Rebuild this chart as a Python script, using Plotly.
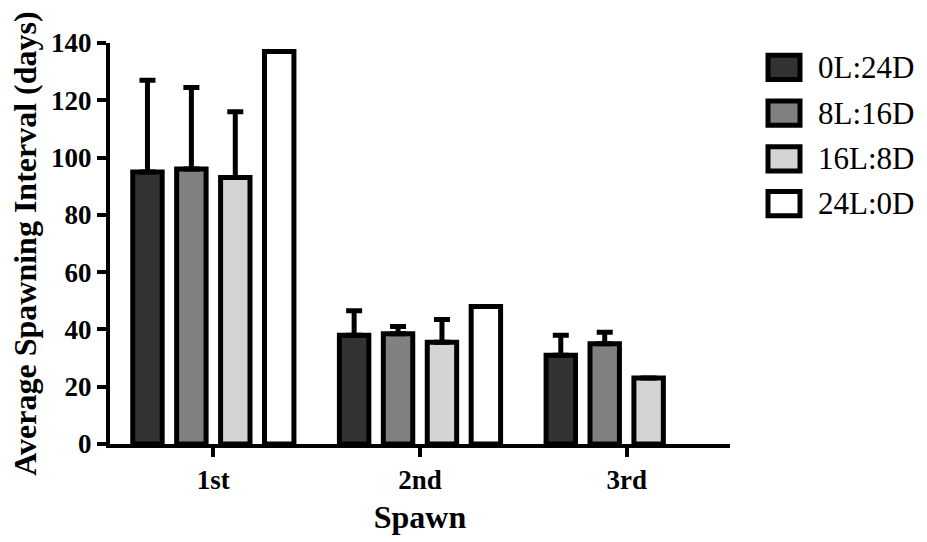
import plotly.graph_objects as go

# Spawn order on the x axis
spawns = ["1st", "2nd", "3rd"]

# Photoperiod treatments
treatments = ["0L:24D", "8L:16D", "16L:8D", "24L:0D"]
fills = ["#333333", "#808080", "#d4d4d4", "#ffffff"]

# Mean spawning interval (days) per treatment, for each spawn
mean_0L24D = [95, 38, 31]
mean_8L16D = [96, 38.5, 35]
mean_16L8D = [93, 35.5, 23]
mean_24L0D = [137, 48, None]

# Upper error (days)
err_0L24D = [32, 8.5, 7]
err_8L16D = [28.5, 2.5, 4]
err_16L8D = [23, 8, None]
err_24L0D = [None, None, None]

means = [mean_0L24D, mean_8L16D, mean_16L8D, mean_24L0D]
errs = [err_0L24D, err_8L16D, err_16L8D, err_24L0D]

SERIF = "Liberation Serif"

fig = go.Figure()
for name, color, m, e in zip(treatments, fills, means, errs):
    has_err = any(v is not None for v in e)
    fig.add_trace(go.Bar(
        x=spawns, y=m, name=name,
        marker=dict(color=color, line=dict(color="black", width=5)),
        error_y=dict(
            type="data", symmetric=False,
            array=e, arrayminus=[0 if v is not None else None for v in e],
            color="black", thickness=5, width=8, visible=has_err,
        ),
        showlegend=False,
    ))

# Plot area in pixels (for placing the legend)
L, R, T, B = 110, 197, 43, 87
W, H = 927, 542
pw, ph = W - L - R, H - T - B

def px_x(x):
    return (x - L) / pw

def px_y(y):
    return (H - B - y) / ph

shapes = []
annotations = []
row_centers = [68, 115, 162, 208]
for name, color, cy in zip(treatments, fills, row_centers):
    shapes.append(dict(
        type="rect", xref="paper", yref="paper",
        x0=px_x(768), x1=px_x(800), y0=px_y(cy - 12.5), y1=px_y(cy + 12.5),
        fillcolor=color, line=dict(color="black", width=5),
    ))
    annotations.append(dict(
        text=name, xref="paper", yref="paper",
        x=px_x(816), y=px_y(cy), xanchor="left", yanchor="middle",
        showarrow=False, font=dict(family=SERIF, size=31, color="black"),
    ))

fig.update_layout(
    width=W, height=H,
    margin=dict(l=L, r=R, t=T, b=B),
    plot_bgcolor="white", paper_bgcolor="white",
    barmode="group", bargap=0.15, bargroupgap=0.33,
    shapes=shapes, annotations=annotations,
    font=dict(family=SERIF, color="black"),
)
fig.update_xaxes(
    range=[-0.5, 2.5],
    showline=True, linecolor="black", linewidth=4,
    ticks="outside", ticklen=9, tickwidth=4, tickcolor="black",
    tickfont=dict(family=SERIF, size=27, weight="bold"),
    title=dict(text="Spawn", font=dict(family=SERIF, size=32, weight="bold"), standoff=12),
    showgrid=False, zeroline=False,
)
fig.update_yaxes(
    range=[0, 140], dtick=20,
    showline=True, linecolor="black", linewidth=4,
    ticks="outside", ticklen=9, tickwidth=4, tickcolor="black",
    tickfont=dict(family=SERIF, size=27, weight="bold"),
    title=dict(text="Average Spawning Interval (days)",
               font=dict(family=SERIF, size=32, weight="bold"), standoff=6),
    showgrid=False, zeroline=False,
)

fig.write_html("out.html")
